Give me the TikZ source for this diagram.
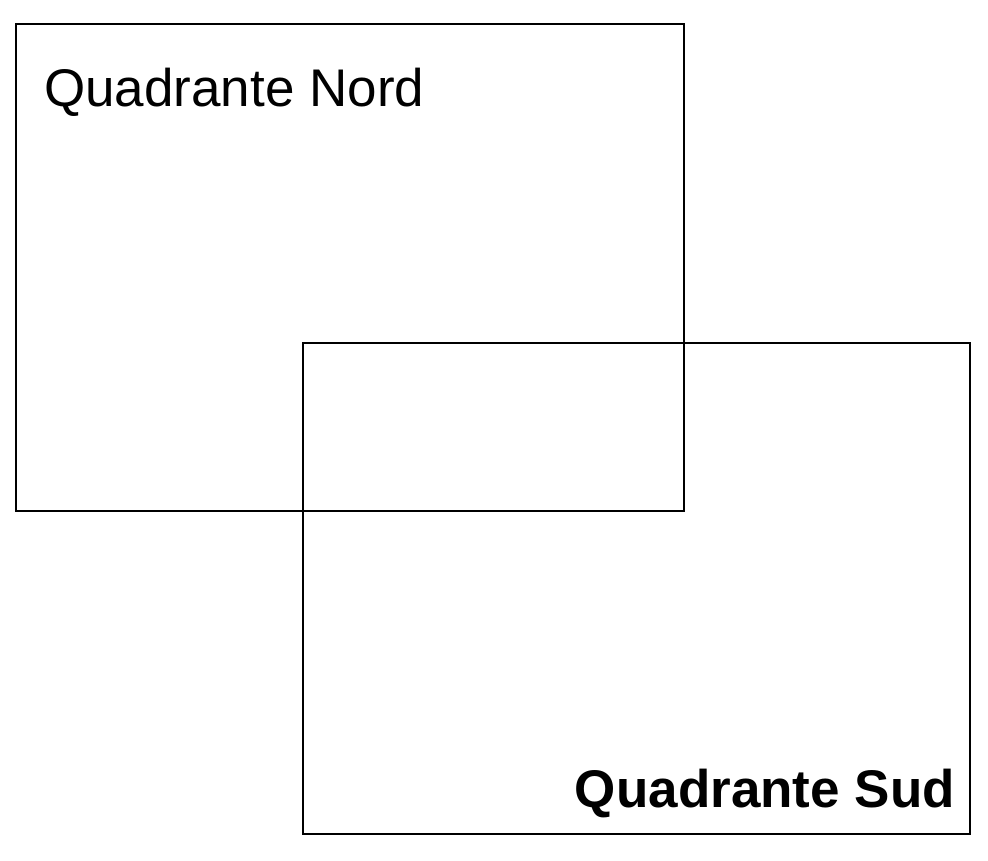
\documentclass[tikz,border=0pt]{standalone}
\usepackage{fontspec}
\setmainfont{Liberation Sans}
\begin{document}
\begin{tikzpicture}[x=1pt,y=-1pt,
  quad/.style={draw=black,line width=2pt},
  lbl/.style={inner sep=0pt,font=\fontsize{53}{60}\selectfont}]
\useasboundingbox (0,0) rectangle (988,861);
\draw[quad] (16,24) rectangle (684,511);
\draw[quad] (303,343) rectangle (970,834);
\node[lbl,anchor=base west] (nord) at (44,107) {Quadrante Nord};
\node[lbl,anchor=base east,font=\fontsize{53}{60}\selectfont\bfseries] (sud) at (955,807) {Quadrante Sud};
\end{tikzpicture}
\end{document}
